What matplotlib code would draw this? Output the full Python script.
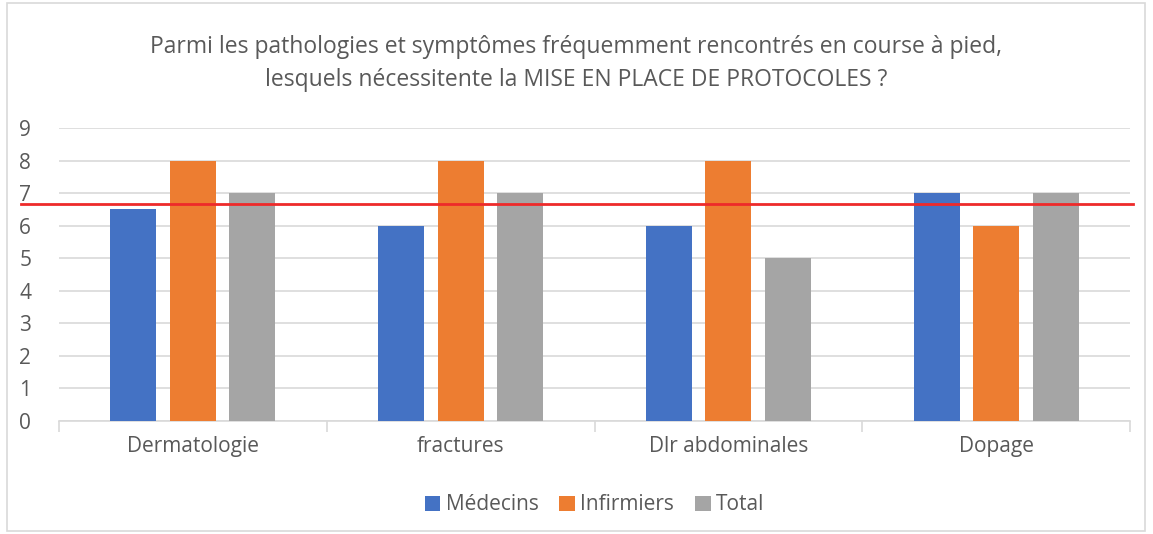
import matplotlib

matplotlib.use("Agg")
import matplotlib.pyplot as plt
import numpy as np
from matplotlib.patches import Rectangle

plt.rcParams["font.family"] = ["Open Sans", "DejaVu Sans"]

categories = ["Dermatologie", "fractures", "Dlr abdominales", "Dopage"]
medecins = [6.5, 6, 6, 7]
infirmiers = [8, 8, 8, 6]
total = [7, 7, 5, 7]
seuil = 6.67
series = [("Médecins", medecins, "#4472C4"),
          ("Infirmiers", infirmiers, "#ED7D31"),
          ("Total", total, "#A5A5A5")]

text_col = "#595959"
grid_col = "#D9D9D9"

fig = plt.figure(figsize=(11.53, 5.34), dpi=100)
ax = fig.add_axes([59 / 1153, 1 - 421 / 534, (1130 - 59) / 1153, (421 - 128) / 534])

x = np.arange(len(categories))
width = 0.172
step = 0.222
for i, (name, vals, col) in enumerate(series):
    ax.bar(x + (i - 1) * step, vals, width, color=col, label=name, zorder=3)

ax.set_xlim(-0.5, len(categories) - 0.5)
ax.set_ylim(0, 9)
ax.set_yticks(range(0, 10))
ax.yaxis.grid(True, color=grid_col, linewidth=1.2, zorder=0)
ax.tick_params(axis="y", length=0, pad=20, labelsize=15, labelcolor=text_col)
ax.set_xticks(x)
ax.set_xticklabels(categories)
ax.tick_params(axis="x", length=0, pad=11, labelsize=15, labelcolor=text_col)
ax.set_xticks(np.arange(-0.5, len(categories)), minor=True)
ax.tick_params(axis="x", which="minor", length=8, color=grid_col, width=1.2)
for side in ["top", "right", "left"]:
    ax.spines[side].set_visible(False)
ax.spines["bottom"].set_color(grid_col)
ax.spines["bottom"].set_linewidth(1.2)

# threshold line spilling past the plot area
ax.plot([-0.642, 3.511], [seuil, seuil], color="#EE2A2A", linewidth=2,
        clip_on=False, zorder=4)

fig.text(0.5, 1 - 47 / 534,
         "Parmi les pathologies et symptômes fréquemment rencontrés en course à pied,",
         ha="center", va="center", fontsize=16.5, color=text_col)
fig.text(0.5, 1 - 80 / 534,
         "lesquels nécessitente la MISE EN PLACE DE PROTOCOLES ?",
         ha="center", va="center", fontsize=16.5, color=text_col)

ax.legend(loc="center", bbox_to_anchor=(0.5, (421 - 505) / (421 - 128)),
          ncol=3, frameon=False, fontsize=15, labelcolor=text_col,
          handlelength=0.75, handleheight=0.75, handletextpad=0.25, columnspacing=1.0)

fig.patches.append(Rectangle((7 / 1153, 0.005), (1145 - 7) / 1153, 0.99,
                             transform=fig.transFigure, fill=False,
                             edgecolor=grid_col, linewidth=1.2))

fig.savefig("out.png", dpi=100)
